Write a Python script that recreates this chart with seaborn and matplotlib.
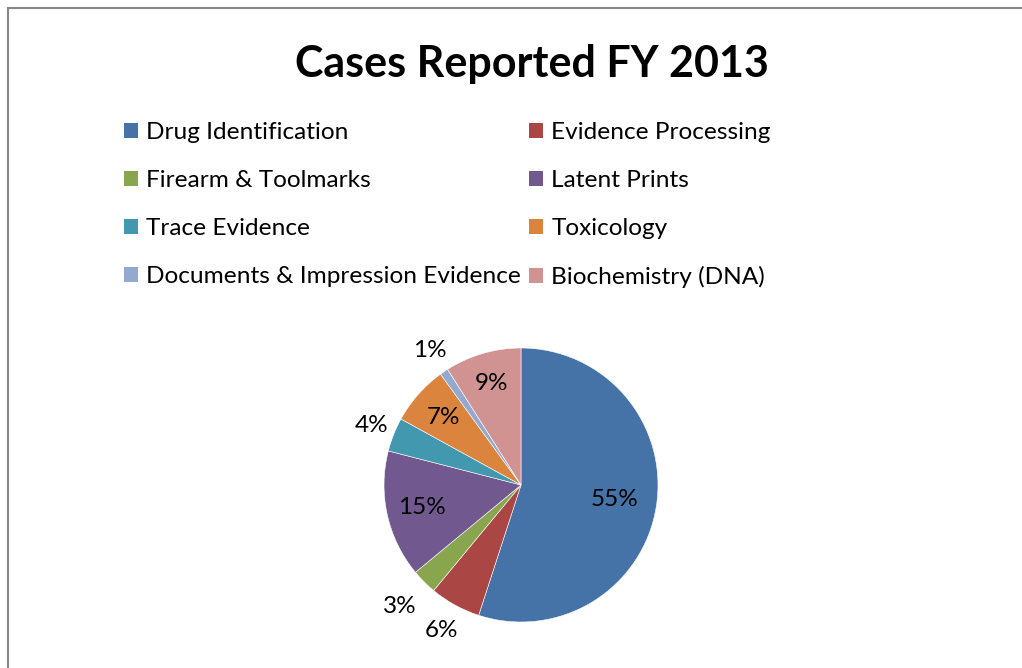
import numpy as np
import matplotlib
matplotlib.use("Agg")
import matplotlib.pyplot as plt
from matplotlib.patches import Patch, Rectangle
import seaborn as sns

# данные
categories = ["Drug Identification", "Evidence Processing", "Firearm & Toolmarks",
              "Latent Prints", "Trace Evidence", "Toxicology",
              "Documents & Impression Evidence", "Biochemistry (DNA)"]
shares = [55, 6, 3, 15, 4, 7, 1, 9]
label_dist = [0.69, 1.21, 1.25, 0.74, 1.17, 0.75, 1.19, 0.77]
colors = ["#4572A7", "#AA4643", "#89A54E", "#71588F",
          "#4198AF", "#DB843D", "#93A9CF", "#D19392"]


def main():
    sns.set_style("white")
    plt.rcParams['font.family'] = ['Lato', 'DejaVu Sans']
    plt.rcParams['text.color'] = 'black'
    palette = sns.color_palette(colors)

    W, H = 1022, 668
    fig = plt.figure(figsize=(W / 100, H / 100), dpi=100)

    # рамка
    fig.patches.append(Rectangle((8 / W, -0.2), 1.2, 1.2 - 8 / H,
                                 transform=fig.transFigure, fill=False,
                                 edgecolor="#868686", linewidth=1.5))

    cx, cy, r = 521, 485, 137
    ax = fig.add_axes([(cx - r) / W, (H - cy - r) / H, 2 * r / W, 2 * r / H])
    ax.pie(shares, colors=palette, startangle=90, counterclock=False,
           radius=1, wedgeprops=dict(edgecolor="white", linewidth=0.4))
    ax.set_xlim(-1, 1)
    ax.set_ylim(-1, 1)
    ax.set_aspect("equal")
    ax.axis("off")

    total = sum(shares)
    cum = 0
    for val, d in zip(shares, label_dist):
        mid = 90 - 360 * (cum + val / 2) / total
        cum += val
        a = np.deg2rad(mid)
        ax.text(d * np.cos(a), d * np.sin(a), f"{val}%", ha="center", va="center",
                fontsize=17.5, color="black", clip_on=False)

    fig.text(532 / W, 1 - 64 / H, "Cases Reported FY 2013", ha="center", va="center",
             fontsize=31, fontweight="bold", color="black")

    handles = [Patch(facecolor=c, edgecolor="none") for c in palette]
    order = [0, 2, 4, 6, 1, 3, 5, 7]
    fig.legend([handles[i] for i in order], [categories[i] for i in order],
               ncol=2, loc="upper left", bbox_to_anchor=(102 / W, 1 - 100 / H),
               frameon=False, fontsize=17.6, handlelength=0.57, handleheight=0.57,
               handletextpad=0.33, labelspacing=1.1, columnspacing=0.35)

    fig.savefig("out.png", dpi=100)
    plt.close()


if __name__ == "__main__":
    main()
